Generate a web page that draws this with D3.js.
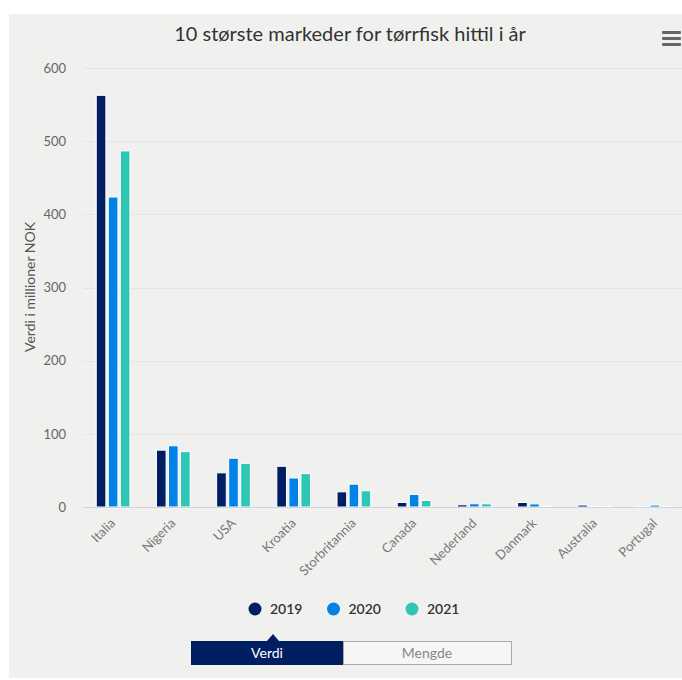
<!DOCTYPE html>
<html>
<head>
<meta charset="utf-8">
<script src="https://cdn.jsdelivr.net/npm/d3@7"></script>
<style>
  html, body { margin: 0; padding: 0; background: #fff; }
  svg { display: block; font-family: Lato, "Noto Sans", sans-serif; }
</style>
</head>
<body>
<svg id="chart" width="682" height="680"></svg>
<script>
'use strict';

const categories = ['Italia', 'Nigeria', 'USA', 'Kroatia', 'Storbritannia', 'Canada', 'Nederland', 'Danmark', 'Australia', 'Portugal'];
const years = ['2019', '2020', '2021'];
const values2019 = [562, 77, 46, 55, 20, 5.5, 2.3, 5.5, 2, 0];
const values2020 = [423, 83, 66, 39, 30.5, 16.5, 3.7, 3.5, 0.3, 2];
const values2021 = [486, 75, 59, 45, 21.5, 8.2, 3.7, 0.5, 0.3, 0.3];
const yTicks = [0, 100, 200, 300, 400, 500, 600];
const colors = ['#001e62', '#0082e6', '#2ec7b6'];

const seriesValues = [values2019, values2020, values2021];
const svg = d3.select('#chart');

// background
svg.append('rect')
  .attr('x', 9).attr('y', 14)
  .attr('width', 682).attr('height', 664)
  .attr('fill', '#f0f1ef');

const plotLeft = 83, plotRight = 685, plotTop = 68, plotBottom = 507;

const x0 = d3.scaleBand()
  .domain(categories)
  .range([plotLeft, plotRight])
  .padding(0);

const x1 = d3.scaleBand()
  .domain(years)
  .range([x0.bandwidth() * 0.2, x0.bandwidth() * 0.8])
  .paddingInner(0.2)
  .paddingOuter(0.1);

const y = d3.scaleLinear()
  .domain([0, 600])
  .range([plotBottom, plotTop]);

// title
svg.append('text')
  .attr('x', 350).attr('y', 41)
  .attr('text-anchor', 'middle')
  .attr('font-size', '20px')
  .attr('fill', '#333')
  .text('10 største markeder for tørrfisk hittil i år');

// menu icon
svg.append('g')
  .selectAll('rect')
  .data([0, 1, 2])
  .enter()
  .append('rect')
  .attr('x', 662).attr('y', (d) => 31 + d * 6)
  .attr('width', 19).attr('height', 3)
  .attr('rx', 1)
  .attr('fill', '#666');

// gridlines
svg.append('g')
  .selectAll('line')
  .data(yTicks.filter((d) => d > 0))
  .enter()
  .append('line')
  .attr('x1', plotLeft).attr('x2', plotRight)
  .attr('y1', (d) => Math.round(y(d)) + 0.5)
  .attr('y2', (d) => Math.round(y(d)) + 0.5)
  .attr('stroke', '#e4e5e3');

// y axis labels
const yAxis = svg.append('g')
  .attr('transform', `translate(${plotLeft - 17},0)`)
  .call(d3.axisLeft(y).tickValues(yTicks).tickSize(0).tickPadding(0));
yAxis.select('.domain').remove();
yAxis.selectAll('text')
  .attr('font-size', '13px')
  .attr('font-family', 'Lato, "Noto Sans", sans-serif')
  .attr('fill', '#666');

svg.append('text')
  .attr('transform', 'translate(35,287) rotate(-90)')
  .attr('text-anchor', 'middle')
  .attr('font-size', '14px')
  .attr('fill', '#555')
  .text('Verdi i millioner NOK');

// bars
const groups = svg.append('g')
  .selectAll('g')
  .data(categories)
  .enter()
  .append('g')
  .attr('transform', (d) => `translate(${x0(d)},0)`);

groups.selectAll('rect')
  .data((d, i) => years.map((yr, s) => ({ yr: yr, s: s, v: seriesValues[s][i] })))
  .enter()
  .append('rect')
  .attr('x', (d) => x1(d.yr))
  .attr('y', (d) => y(d.v) - 0.5)
  .attr('width', x1.bandwidth())
  .attr('height', (d) => plotBottom - y(d.v) + 0.5)
  .attr('fill', (d) => colors[d.s])
  .attr('stroke', '#ffffff')
  .attr('stroke-width', 1);

// x axis line
svg.append('line')
  .attr('x1', plotLeft).attr('x2', plotRight)
  .attr('y1', plotBottom + 0.5).attr('y2', plotBottom + 0.5)
  .attr('stroke', '#ccd6eb');

// x axis labels
svg.append('g')
  .selectAll('text')
  .data(categories)
  .enter()
  .append('text')
  .attr('transform', (d) => `translate(${x0(d) + x0.bandwidth() / 2 + 3},${plotBottom + 17}) rotate(-45)`)
  .attr('text-anchor', 'end')
  .attr('font-size', '13px')
  .attr('fill', '#777')
  .text((d) => d);

// legend
const legend = svg.append('g')
  .selectAll('g')
  .data(years)
  .enter()
  .append('g')
  .attr('transform', (d, i) => `translate(${255 + i * 78.5},609)`);

legend.append('circle')
  .attr('r', 6.5)
  .attr('fill', (d, i) => colors[i]);

legend.append('text')
  .attr('x', 15).attr('y', 5)
  .attr('font-size', '14px')
  .attr('font-weight', '600')
  .attr('fill', '#333')
  .text((d) => d);

// toggle buttons
svg.append('rect')
  .attr('x', 343.5).attr('y', 641.5)
  .attr('width', 168).attr('height', 23)
  .attr('fill', '#f6f6f5')
  .attr('stroke', '#aaa');
svg.append('rect')
  .attr('x', 191).attr('y', 641)
  .attr('width', 152).attr('height', 24)
  .attr('fill', '#001e62');
svg.append('path')
  .attr('d', 'M267,641 L273,634 L279,641 Z')
  .attr('fill', '#001e62');
svg.append('text')
  .attr('x', 267).attr('y', 658)
  .attr('text-anchor', 'middle')
  .attr('font-size', '14px')
  .attr('fill', '#fff')
  .text('Verdi');
svg.append('text')
  .attr('x', 427).attr('y', 658)
  .attr('text-anchor', 'middle')
  .attr('font-size', '14px')
  .attr('fill', '#888')
  .text('Mengde');
</script>
</body>
</html>
